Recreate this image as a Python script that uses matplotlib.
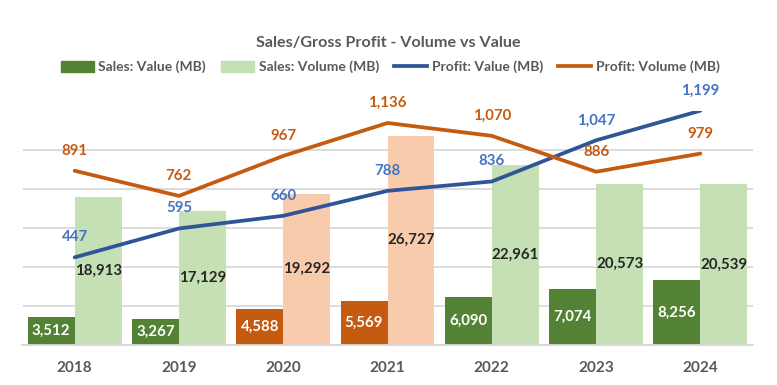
import matplotlib
matplotlib.use("Agg")
import matplotlib.pyplot as plt
from matplotlib.patches import Patch
from matplotlib.lines import Line2D
import numpy as np

years = ["2018", "2019", "2020", "2021", "2022", "2023", "2024"]
sales_value = [3512, 3267, 4588, 5569, 6090, 7074, 8256]
sales_volume = [18913, 17129, 19292, 26727, 22961, 20573, 20539]
profit_value = [447, 595, 660, 788, 836, 1047, 1199]
profit_volume = [891, 762, 967, 1136, 1070, 886, 979]
highlight_years = ["2020", "2021"]

plt.rcParams["font.family"] = ["Lato", "DejaVu Sans"]

C_DG = "#548235"
C_LG = "#C5E0B4"
C_DO = "#C55A11"
C_PE = "#F8CBAD"
C_BL = "#2F5597"
C_BLT = "#4472C4"
C_TXT = "#595959"
C_GRID = "#D9D9D9"

fig = plt.figure(figsize=(7.77, 3.85), dpi=100)
ax = fig.add_axes([22.5 / 777, 40.5 / 385, 730 / 777, 234 / 385])
x = np.arange(len(years))
w = 0.45

val_colors = [C_DO if y in highlight_years else C_DG for y in years]
vol_colors = [C_PE if y in highlight_years else C_LG for y in years]

b1 = ax.bar(x - w / 2, sales_value, w, color=val_colors, zorder=2)
b2 = ax.bar(x + w / 2, sales_volume, w, color=vol_colors, zorder=2)
ax.set_ylim(0, 30000)
ax.set_xlim(-0.5, len(years) - 0.5)
ax.set_yticks(np.arange(0, 30001, 5000))
ax.yaxis.grid(True, color=C_GRID, linewidth=1.3, zorder=0)
ax.set_axisbelow(True)
ax.set_xticks(x)
ax.set_xticklabels(years, fontsize=11, fontweight="bold", color=C_TXT)
for s in ["top", "right", "left"]:
    ax.spines[s].set_visible(False)
ax.spines["bottom"].set_color(C_GRID)
ax.spines["bottom"].set_linewidth(1.3)

for rect, v in zip(b1, sales_value):
    ax.text(rect.get_x() + rect.get_width() / 2, v / 2, f"{v:,}", ha="center", va="center",
            color="white", fontsize=10.8, fontweight="bold", zorder=3)
for rect, v in zip(b2, sales_volume):
    ax.text(rect.get_x() + rect.get_width() / 2, v / 2, f"{v:,}", ha="center", va="center",
            color="#262626", fontsize=10.8, fontweight="bold", zorder=3)

ax2 = ax.twinx()
ax2.set_ylim(0, 1200)
ax2.set_xlim(-0.5, len(years) - 0.5)
ax2.axis("off")
ax.tick_params(axis="y", which="both", left=False, right=False, labelleft=False, labelright=False)
ax.tick_params(axis="x", length=0, pad=12)
ax2.plot(x, profit_value, color=C_BL, linewidth=2.7, solid_capstyle="round")
ax2.plot(x, profit_volume, color=C_DO, linewidth=2.7, solid_capstyle="round")
for xi, v in zip(x, profit_value):
    ax2.annotate(f"{v:,}", (xi, v), xytext=(0, 14.4), textcoords="offset points",
                 ha="center", va="center", color=C_BLT, fontsize=10.8, fontweight="bold",
                 annotation_clip=False)
for xi, v in zip(x, profit_volume):
    ax2.annotate(f"{v:,}", (xi, v), xytext=(0, 14.4), textcoords="offset points",
                 ha="center", va="center", color=C_DO, fontsize=10.8, fontweight="bold",
                 annotation_clip=False)

fig.text(0.5, 1 - 43 / 385, "Sales/Gross Profit - Volume vs Value", ha="center", va="center",
         fontsize=11.6, fontweight="bold", color=C_TXT)

handles = [Patch(color=C_DG), Patch(color=C_LG),
           Line2D([], [], color=C_BL, linewidth=2.7),
           Line2D([], [], color=C_DO, linewidth=2.7)]
labels = ["Sales: Value (MB)", "Sales: Volume (MB)", "Profit: Value (MB)", "Profit: Volume (MB)"]
leg = fig.legend(handles, labels, loc="center", bbox_to_anchor=(0.502, 1 - 67 / 385), ncol=4,
                 frameon=False, fontsize=10, handlelength=2.4, handleheight=0.8,
                 handletextpad=0.3, columnspacing=1.1)
for t in leg.get_texts():
    t.set_color(C_TXT)
    t.set_fontweight("bold")

fig.savefig("out.png", dpi=100)
